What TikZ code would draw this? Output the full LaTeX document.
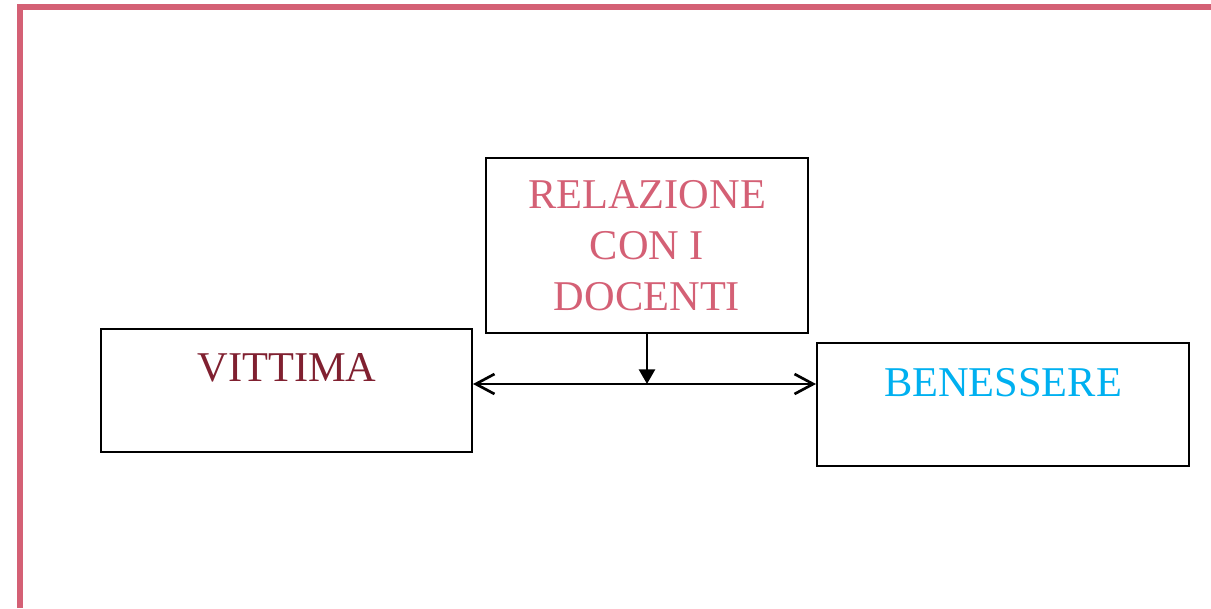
\documentclass[tikz,border=0pt]{standalone}
\usepackage{fontspec}
\setmainfont{Liberation Serif}
\usetikzlibrary{arrows.meta,positioning}
\definecolor{framepink}{RGB}{212,96,117}
\definecolor{victimred}{RGB}{128,32,48}
\definecolor{wellblue}{RGB}{0,176,240}
\tikzset{
  box/.style={draw, line width=1.5pt, inner sep=0pt},
  boxtext/.style={font=\fontsize{31.8}{38}\selectfont, align=center, inner sep=0pt},
  link/.style={line width=2pt}
}

\begin{document}
\begin{tikzpicture}[x=0.75pt, y=-0.75pt]
		%%%%% START %%%%%
		\useasboundingbox (0, 0) rectangle (1211, 608);
		
		\draw[framepink, line width=4.5pt] (20, 608) -- (20, 7) -- (1211, 7);
		
		\node[box, boxtext, text=framepink, minimum width=241.5pt, minimum height=131.25pt] (rel) at (647, 245.5) {RELAZIONE\\CON I\\DOCENTI};
		
		\node[box, minimum width=278.25pt, minimum height=92.25pt] (vit) at (286.5, 390.5) {};
		\node[boxtext, text=victimred, anchor=base] (vittxt) at (287, 381) {VITTIMA};
		
		\node[box, minimum width=279pt, minimum height=92.25pt] (ben) at (1003, 404.5) {};
		\node[boxtext, text=wellblue, anchor=base] (bentxt) at (1003, 396) {BENESSERE};
		
		\coordinate (mid) at (647, 384);
		\draw[link, {Straight Barb[length=14pt, width=15pt]}-{Straight Barb[length=14pt, width=15pt]}] (vit.east |- mid) -- (ben.west |- mid);
		\draw[link, -{Triangle[length=11pt, width=12pt]}] (rel.south) -- (mid);
		
		%%%%% END %%%%%
	\end{tikzpicture}
\end{document}
